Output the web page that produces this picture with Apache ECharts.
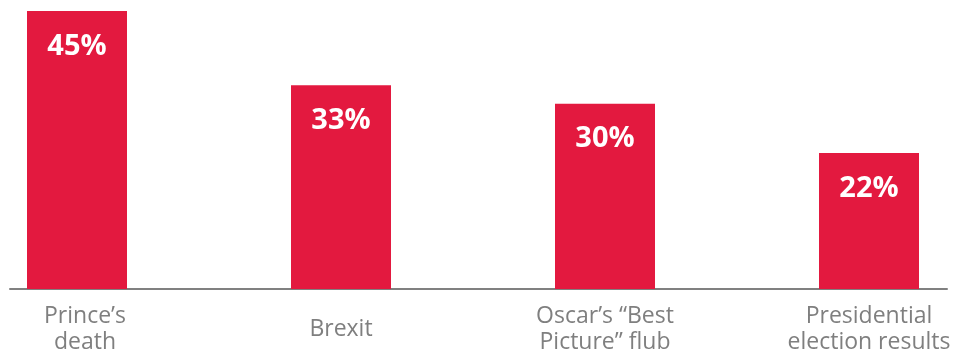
<!DOCTYPE html>
<html>
<head>
<meta charset="utf-8">
<script src="https://cdn.jsdelivr.net/npm/echarts@6/dist/echarts.min.js"></script>
<style>html,body{margin:0;padding:0;background:#fff}#c{width:962px;height:356px}</style>
</head>
<body>
<div id="c"></div>
<script>
const categories = ['Prince’s\ndeath', 'Brexit', 'Oscar’s “Best\nPicture” flub', 'Presidential\nelection results'];
const values = [45, 33, 30, 22];

const labelStyle = {color: '#7f7f7f', fontSize: 23, fontFamily: 'Open Sans', lineHeight: 26, verticalAlign: 'middle'};
const chart = echarts.init(document.getElementById('c'));
chart.setOption({
  animation: false,
  grid: [
    {left: -55, right: -39, top: 11, bottom: 67, outerBoundsMode: 'none', containLabel: false},
    {left: 10, right: 15, top: 11, bottom: 67, outerBoundsMode: 'none', containLabel: false}
  ],
  xAxis: [
    {
      type: 'category', gridIndex: 0,
      data: categories.map((c, i) => i === 0 ? {value: c, textStyle: Object.assign({}, labelStyle, {padding: [0, 0, 0, 16]})} : c),
      axisLine: {show: false}, axisTick: {show: false},
      axisLabel: Object.assign({margin: 40, interval: 0}, labelStyle)
    },
    {
      type: 'category', gridIndex: 1, data: [''],
      axisLine: {show: true, lineStyle: {color: '#808080', width: 2}}, axisTick: {show: false}, axisLabel: {show: false}
    }
  ],
  yAxis: [
    {type: 'value', gridIndex: 0, min: 0, max: 45, show: false, splitLine: {show: false}},
    {type: 'value', gridIndex: 1, min: 0, max: 45, show: false, splitLine: {show: false}}
  ],
  series: [{
    type: 'bar', xAxisIndex: 0, yAxisIndex: 0,
    data: values, barWidth: 100,
    itemStyle: {color: '#e3193f'},
    label: {show: true, position: 'insideTop', distance: 21, color: '#fff', fontSize: 29, fontWeight: 'bold', fontFamily: 'Open Sans', formatter: '{c}%'}
  }]
});
</script>
</body>
</html>
